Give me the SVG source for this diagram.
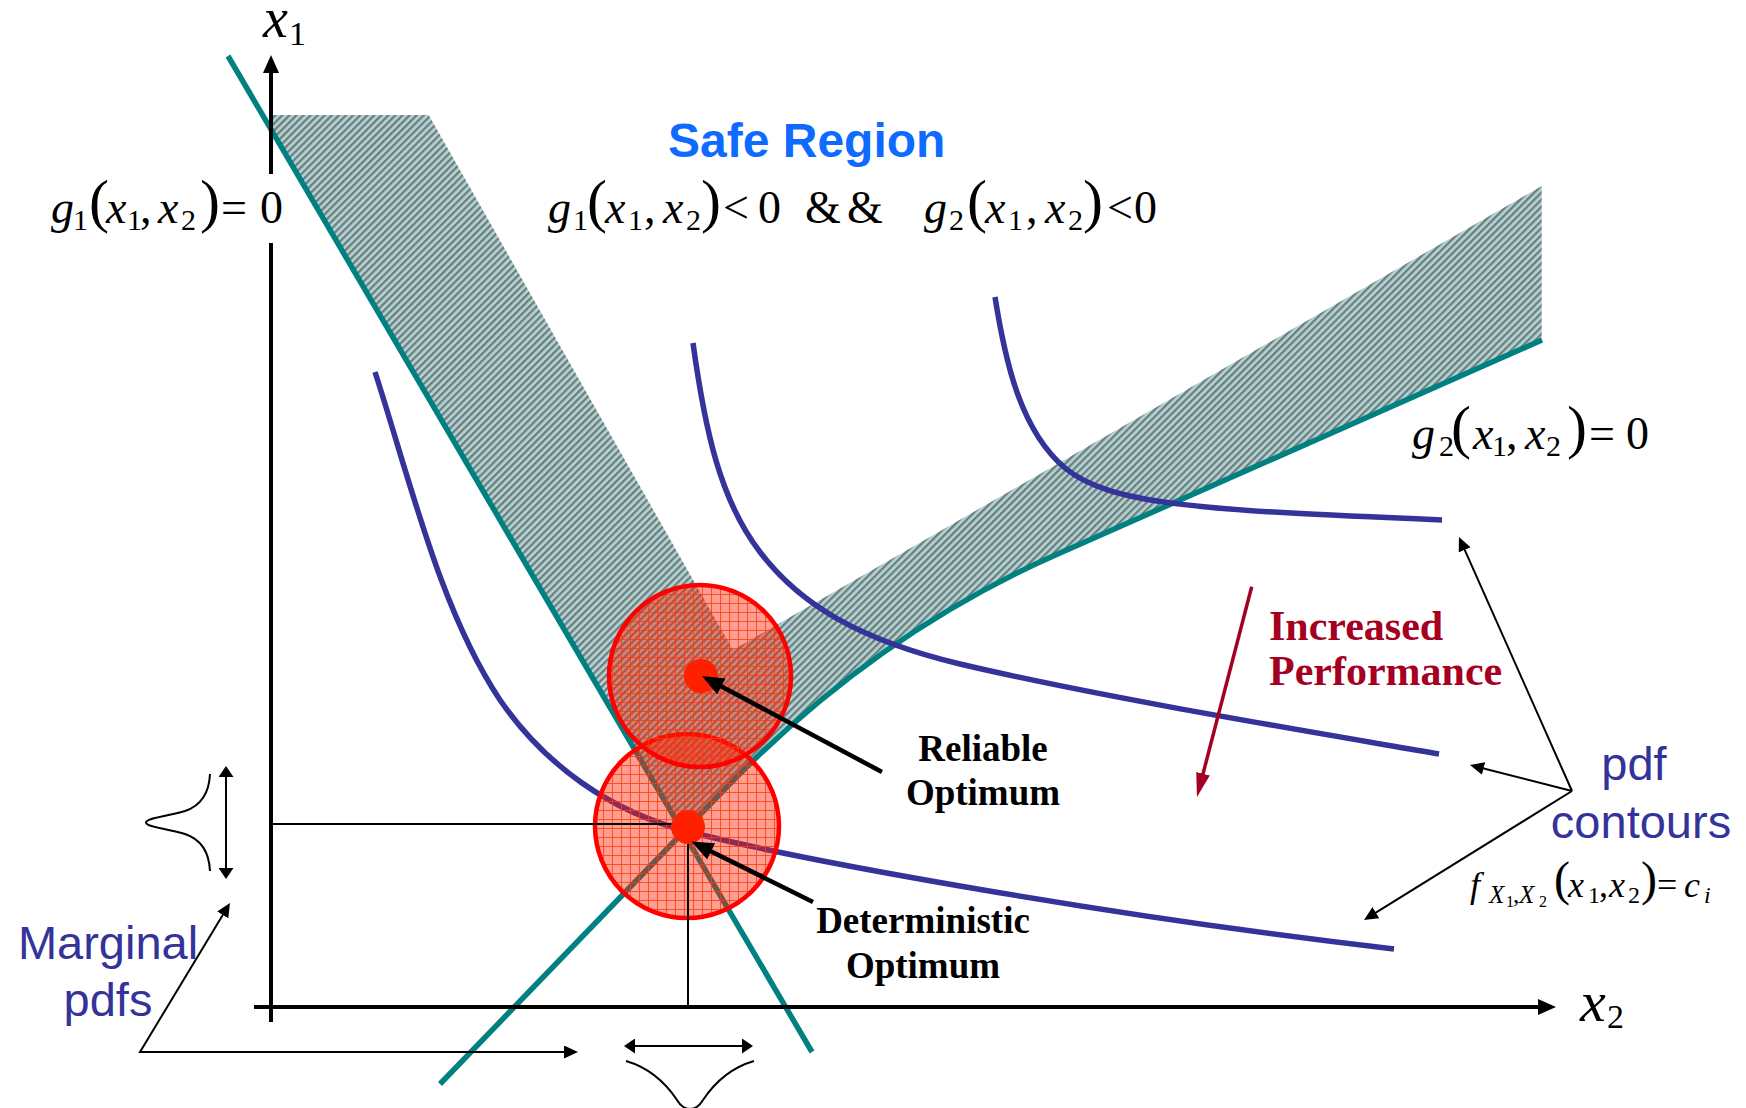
<svg xmlns="http://www.w3.org/2000/svg" width="1746" height="1108" viewBox="0 0 1746 1108">
<style>
.m{font-family:"Liberation Serif","Times New Roman",serif;fill:#000}
.i{font-style:italic}
.b{font-family:"Liberation Serif","Times New Roman",serif;font-weight:bold}
.a{font-family:"Liberation Sans",Arial,sans-serif}
.teal{fill:none;stroke:#008080;stroke-width:5.5}
.pdf{fill:none;stroke:#333399;stroke-width:5.5}
.thin{fill:none;stroke:#000;stroke-width:2}
.thick{fill:none;stroke:#000;stroke-width:4.5}
</style>
<defs>
<pattern id="hatch" width="5" height="5" patternUnits="userSpaceOnUse" patternTransform="rotate(45)">
<rect width="5" height="5" fill="#AAD8D8"/>
<rect width="2.3" height="5" fill="#787878"/>
</pattern>
<pattern id="grid" width="9" height="9" patternUnits="userSpaceOnUse">
<path d="M0,0.5H9M0.5,0V9" stroke="#FF3A10" stroke-width="1" stroke-opacity="0.8"/>
</pattern>
<marker id="ahBig" viewBox="0 0 22 18" markerWidth="22" markerHeight="18" refX="10" refY="9" orient="auto" markerUnits="userSpaceOnUse">
<path d="M0,0L22,9L0,18Z" fill="#000"/>
</marker>
<marker id="ah" viewBox="0 0 14 13" markerWidth="14" markerHeight="13" refX="10" refY="6.5" orient="auto-start-reverse" markerUnits="userSpaceOnUse">
<path d="M0,0L14,6.5L0,13Z" fill="#000"/>
</marker>
<marker id="ahD" viewBox="0 0 11 15" markerWidth="11" markerHeight="15" refX="7" refY="7.5" orient="auto-start-reverse" markerUnits="userSpaceOnUse">
<path d="M0,0L11,7.5L0,15Z" fill="#000"/>
</marker>
<marker id="ahRed" viewBox="0 0 24 14" markerWidth="24" markerHeight="14" refX="6" refY="7" orient="auto" markerUnits="userSpaceOnUse">
<path d="M0,0L24,7L0,14Z" fill="#A50021"/>
</marker>
</defs>
<rect width="1746" height="1108" fill="#fff"/>

<g id="infeasible-band">
<path d="M271,115 L428.7,115 L733,650 L1541.7,186 L1541.7,340 L1060,553 Q872,635 720,794 L683,832 L271,129.3 Z" fill="url(#hatch)"/>
</g>

<g id="limit-states">
<path id="g1-line" class="teal" d="M228,56 L812,1052"/>
<path id="g2-line" class="teal" d="M440,1084 L720,794 Q872,635 1060,553 L1542,340"/>
</g>

<g id="pdf-contours">
<path class="pdf" d="M375,372 C410,480 440,610 500,700 C545,765 610,812 690,832 C800,860 1100,915 1394,949"/>
<path class="pdf" d="M693,343 C705,430 720,500 760,552 C800,605 860,640 960,664 C1100,697 1300,730 1439,754"/>
<path class="pdf" d="M995,297 C1005,360 1020,430 1065,468 C1110,505 1200,510 1442,520"/>
</g>

<g id="axes">
<path d="M271,1022 V243 M271,174 V70" stroke="#000" stroke-width="4" fill="none"/>
<polygon points="271,55 263,73 279,73" fill="#000"/>
<path d="M254,1007 H1540" stroke="#000" stroke-width="4" fill="none"/>
<polygon points="1556,1007 1538,999 1538,1015" fill="#000"/>
</g>

<g id="deterministic-circle">
<circle cx="687" cy="826" r="92" fill="#FF2000" fill-opacity="0.43"/>
<circle cx="687" cy="826" r="92" fill="url(#grid)" stroke="#FF0000" stroke-width="4.5"/>
</g>
<g id="reliable-circle">
<circle cx="700" cy="676" r="91" fill="#FF2000" fill-opacity="0.43"/>
<circle cx="700" cy="676" r="91" fill="url(#grid)" stroke="#FF0000" stroke-width="4.5"/>
</g>

<g id="projection-lines">
<path class="thin" d="M271,824 H672 M688,842 V1007"/>
</g>

<g id="reliable-point"><circle cx="701" cy="676" r="17" fill="#FF2000"/></g>
<g id="deterministic-point"><circle cx="688" cy="827" r="17" fill="#FF2000"/></g>

<g id="marginal-pdf-x1">
<path class="thin" d="M210,774 C209,795 200,806 185,811 C165,817 146,818 146,822.5 C146,827 165,828 185,834 C200,839 209,850 210,871"/>
</g>
<g id="marginal-pdf-x2">
<path class="thin" d="M626,1061 C650,1068 665,1082 677,1100 C684,1112 696,1112 703,1100 C715,1082 730,1068 754,1061"/>
</g>

<g id="connectors">
<line x1="882" y1="772" x2="712.6" y2="681.7" class="thick" marker-end="url(#ahBig)"/>
<line x1="813" y1="902" x2="702.2" y2="846.9" class="thick" marker-end="url(#ahBig)"/>
<line x1="1251.7" y1="586.7" x2="1201.5" y2="779.6" stroke="#A50021" stroke-width="3.5" marker-end="url(#ahRed)"/>
<line x1="1572" y1="791" x2="1460.6" y2="540.7" class="thin" marker-end="url(#ah)"/>
<line x1="1572" y1="791" x2="1473.9" y2="766" class="thin" marker-end="url(#ah)"/>
<line x1="1572" y1="791" x2="1367.4" y2="917.9" class="thin" marker-end="url(#ah)"/>
<path d="M227.9,906.4 L140,1052 L574,1052" class="thin" marker-start="url(#ah)" marker-end="url(#ah)"/>
<line x1="226" y1="770" x2="226" y2="875" class="thin" marker-start="url(#ahD)" marker-end="url(#ahD)"/>
<line x1="628" y1="1046" x2="749" y2="1046" class="thin" marker-start="url(#ahD)" marker-end="url(#ahD)"/>
</g>

<g id="label-x1">
<text class="m"><tspan class="i" x="263" y="37" font-size="56">x</tspan><tspan x="289" y="45" font-size="34">1</tspan></text>
</g>
<g id="label-x2">
<text class="m"><tspan class="i" x="1580" y="1021" font-size="58">x</tspan><tspan x="1607" y="1028" font-size="34">2</tspan></text>
</g>

<g id="label-g1">
<text class="m" font-size="46"><tspan class="i" x="51" y="223">g</tspan><tspan x="73" y="230" font-size="30">1</tspan><tspan x="89" y="221" font-size="60">(</tspan><tspan class="i" x="106" y="223">x</tspan><tspan x="127" y="230" font-size="30">1</tspan><tspan x="140" y="223">,</tspan><tspan class="i" x="158" y="223">x</tspan><tspan x="181" y="230" font-size="30">2</tspan><tspan x="200" y="221" font-size="60">)</tspan><tspan x="221" y="223">=</tspan><tspan x="260" y="223">0</tspan></text>
</g>

<g id="label-safe-region">
<text class="a" x="668" y="157" font-size="48" font-weight="bold" fill="#0F6BFF">Safe Region</text>
<text class="m" font-size="46"><tspan class="i" x="548" y="223">g</tspan><tspan x="573" y="230" font-size="30">1</tspan><tspan x="587" y="221" font-size="60">(</tspan><tspan class="i" x="605" y="223">x</tspan><tspan x="628" y="230" font-size="30">1</tspan><tspan x="644" y="223">,</tspan><tspan class="i" x="663" y="223">x</tspan><tspan x="686" y="230" font-size="30">2</tspan><tspan x="701" y="221" font-size="60">)</tspan><tspan x="723" y="223">&lt;</tspan><tspan x="758" y="223">0</tspan><tspan x="805" y="223">&amp;</tspan><tspan x="847" y="223">&amp;</tspan><tspan class="i" x="924" y="223">g</tspan><tspan x="949" y="230" font-size="30">2</tspan><tspan x="967" y="221" font-size="60">(</tspan><tspan class="i" x="985" y="223">x</tspan><tspan x="1008" y="230" font-size="30">1</tspan><tspan x="1026" y="223">,</tspan><tspan class="i" x="1045" y="223">x</tspan><tspan x="1068" y="230" font-size="30">2</tspan><tspan x="1083" y="221" font-size="60">)</tspan><tspan x="1107" y="223">&lt;</tspan><tspan x="1134" y="223">0</tspan></text>
</g>

<g id="label-g2">
<text class="m" font-size="46"><tspan class="i" x="1412" y="449">g</tspan><tspan x="1439" y="456" font-size="30">2</tspan><tspan x="1451" y="447" font-size="60">(</tspan><tspan class="i" x="1473" y="449">x</tspan><tspan x="1492" y="456" font-size="30">1</tspan><tspan x="1506" y="449">,</tspan><tspan class="i" x="1525" y="449">x</tspan><tspan x="1546" y="456" font-size="30">2</tspan><tspan x="1567" y="447" font-size="60">)</tspan><tspan x="1589" y="449">=</tspan><tspan x="1626" y="449">0</tspan></text>
</g>

<g id="label-reliable">
<text class="b" font-size="37" text-anchor="middle"><tspan x="983" y="761">Reliable</tspan><tspan x="983" y="805">Optimum</tspan></text>
</g>
<g id="label-deterministic">
<text class="b" font-size="37" text-anchor="middle"><tspan x="923" y="933">Deterministic</tspan><tspan x="923" y="978">Optimum</tspan></text>
</g>
<g id="label-performance">
<text class="b" font-size="42" fill="#A50021"><tspan x="1269" y="640">Increased</tspan><tspan x="1269" y="685">Performance</tspan></text>
</g>
<g id="label-pdf-contours">
<text class="a" font-size="47" fill="#333399" text-anchor="middle"><tspan x="1634" y="780">pdf</tspan><tspan x="1641" y="838">contours</tspan></text>
<text class="m" font-size="36"><tspan class="i" x="1470" y="897">f</tspan><tspan class="i" x="1489" y="903" font-size="25">X</tspan><tspan x="1506" y="907" font-size="16">1</tspan><tspan x="1513" y="903" font-size="25">,</tspan><tspan class="i" x="1519" y="903" font-size="25">X</tspan><tspan x="1539" y="907" font-size="16">2</tspan><tspan x="1554" y="895" font-size="48">(</tspan><tspan class="i" x="1568" y="897">x</tspan><tspan x="1588" y="903" font-size="24">1</tspan><tspan x="1599" y="897">,</tspan><tspan class="i" x="1609" y="897">x</tspan><tspan x="1628" y="903" font-size="24">2</tspan><tspan x="1641" y="895" font-size="48">)</tspan><tspan x="1657" y="897">=</tspan><tspan class="i" x="1684" y="897">c</tspan><tspan class="i" x="1704" y="903" font-size="24">i</tspan></text>
</g>
<g id="label-marginal">
<text class="a" font-size="47" fill="#333399" text-anchor="middle"><tspan x="108" y="959">Marginal</tspan><tspan x="108" y="1016">pdfs</tspan></text>
</g>
</svg>
